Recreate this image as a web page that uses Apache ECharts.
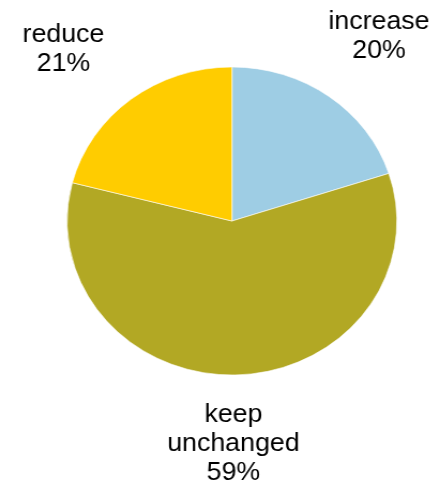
<!DOCTYPE html>
<html>
<head>
<meta charset="utf-8">
<script src="https://cdn.jsdelivr.net/npm/echarts@6/dist/echarts.min.js"></script>
<style>
html,body{margin:0;padding:0;background:#fff;overflow:hidden;}
#c{width:411px;height:487px;transform:scaleX(1.0706);transform-origin:0 0;}
</style>
</head>
<body>
<div id="c"></div>
<script>
var categories = ['increase', 'keep\nunchanged', 'reduce'];
var values = [20, 59, 21];
var colors = ['#9ECDE4', '#B2A824', '#FFCC00'];
var labelPos = [[354, 36.5], [218, 444], [59.3, 49.5]];

var chart = echarts.init(document.getElementById('c'), null, {renderer: 'canvas'});
chart.setOption({
  animation: false,
  series: [{
    type: 'pie',
    center: [216.7, 221],
    radius: [0, 154],
    startAngle: 90,
    clockwise: true,
    avoidLabelOverlap: false,
    itemStyle: {borderColor: '#ffffff', borderWidth: 0.6},
    label: {
      show: true,
      position: 'outside',
      formatter: '{b}\n{d}%',
      fontFamily: '"Liberation Sans", Arial, sans-serif',
      fontSize: 25,
      lineHeight: 29,
      color: '#000',
      align: 'center'
    },
    labelLine: {show: false},
    labelLayout: function (p) {
      var pos = labelPos[p.dataIndex];
      return {x: pos[0], y: pos[1], align: 'center', verticalAlign: 'middle'};
    },
    emphasis: {disabled: true},
    data: categories.map(function (name, i) {
      return {name: name, value: values[i], itemStyle: {color: colors[i]}};
    })
  }]
});
</script>
</body>
</html>
